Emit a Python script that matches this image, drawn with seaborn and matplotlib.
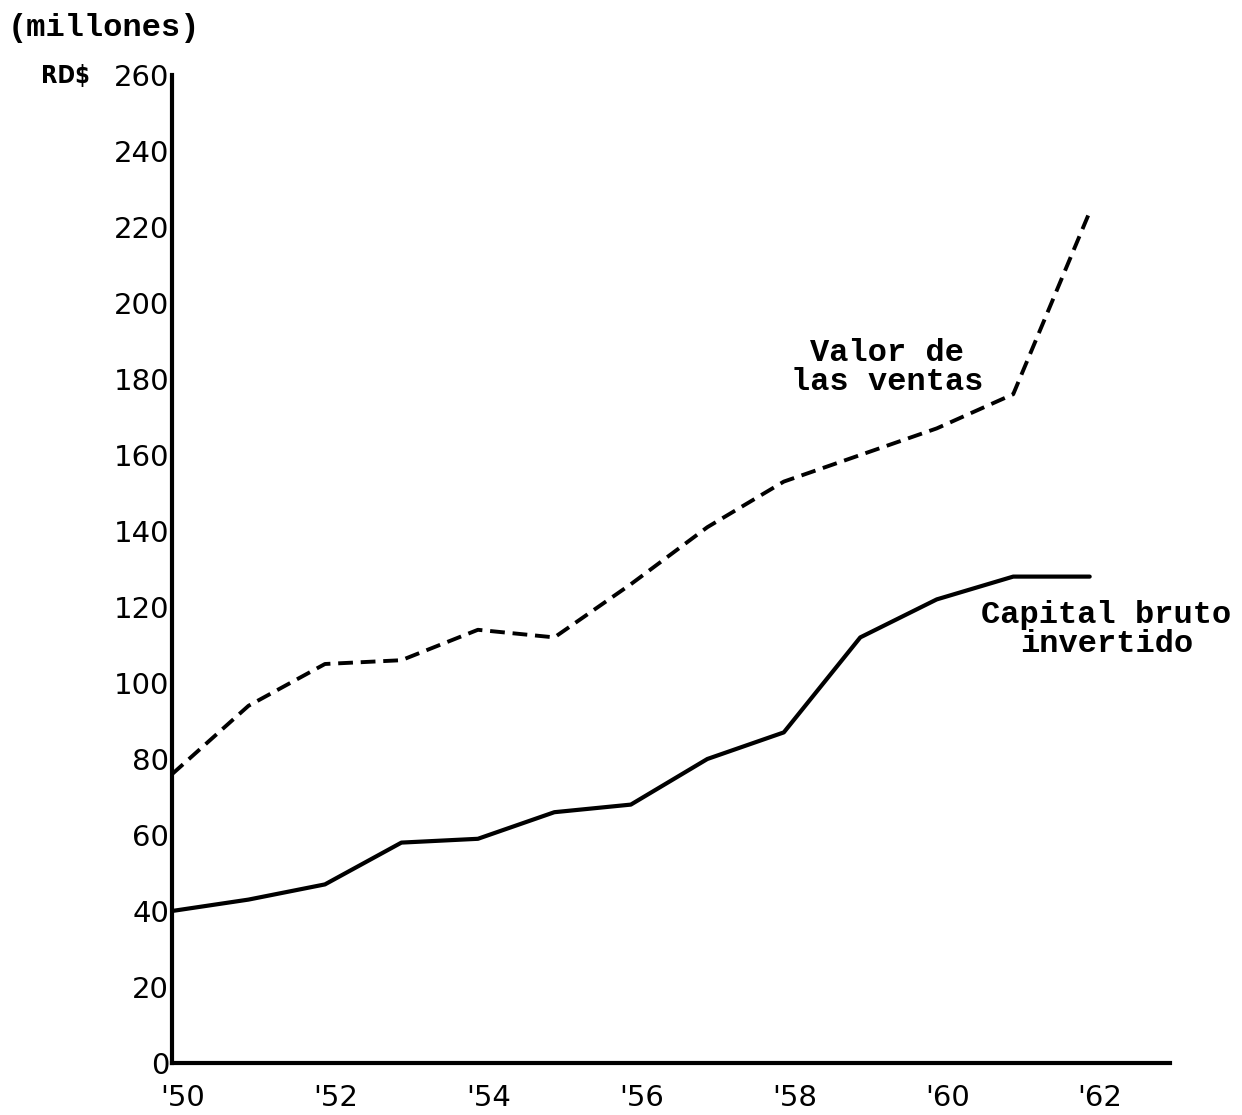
import matplotlib
matplotlib.use('Agg')
import matplotlib.pyplot as plt
import matplotlib.transforms as mtransforms
import seaborn as sns
import pandas as pd

# Datos (millones RD$)
anios = [1950, 1951, 1952, 1953, 1954, 1955, 1956, 1957, 1958, 1959, 1960, 1961, 1962]
ventas = [76, 94, 105, 106, 114, 112, 126, 141, 153, 160, 167, 176, 224]
capital = [40, 43, 47, 58, 59, 66, 68, 80, 87, 112, 122, 128, 128]

ticks_x = [1950, 1952, 1954, 1956, 1958, 1960, 1962]
etiquetas_x = ["'50", "'52", "'54", "'56", "'58", "'60", "'62"]
ticks_y = list(range(0, 261, 20))

df = pd.DataFrame({'anio': anios, 'ventas': ventas, 'capital': capital})

sns.set_style('white')
plt.rcParams['font.family'] = ['DejaVu Sans']
plt.rcParams['text.color'] = 'black'
plt.rcParams['xtick.color'] = 'black'
plt.rcParams['ytick.color'] = 'black'

fig = plt.figure(figsize=(12.42, 11.15), dpi=100)
ax = fig.add_axes([172 / 1242, 52 / 1115, (1170 - 172) / 1242, (1063 - 75) / 1115])

sns.lineplot(data=df, x='anio', y='ventas', ax=ax, color='black', linewidth=2.8,
             linestyle=(0, (3.8, 2)))
sns.lineplot(data=df, x='anio', y='capital', ax=ax, color='black', linewidth=3.0)

ax.set_xlim(1950, 1963.05)
ax.set_ylim(0, 260)
ax.set_xticks(ticks_x)
ax.set_xticklabels(etiquetas_x)
ax.set_yticks(ticks_y)
ax.set_xlabel('')
ax.set_ylabel('')

ax.tick_params(axis='x', length=0, pad=15, labelsize=21, labelcolor='black')
ax.tick_params(axis='y', length=0, pad=2, labelsize=21, labelcolor='black')
# pequeño desplazamiento de las etiquetas x
desplaza = mtransforms.ScaledTranslation(-12 / 100, 0, fig.dpi_scale_trans)
for lab in ax.get_xticklabels():
    lab.set_horizontalalignment('left')
    lab.set_transform(lab.get_transform() + desplaza)

for lado in ['top', 'right']:
    ax.spines[lado].set_visible(False)
for lado in ['left', 'bottom']:
    ax.spines[lado].set_linewidth(3)
    ax.spines[lado].set_color('black')

fuente = ['Liberation Mono', 'DejaVu Sans Mono']
ax.text(1959.35, 183, 'Valor de\nlas ventas', ha='center', va='center',
        fontsize=23, family=fuente, fontweight='bold', linespacing=0.95)
ax.text(1962.22, 114, 'Capital bruto\ninvertido', ha='center', va='center',
        fontsize=23, family=fuente, fontweight='bold', linespacing=0.95,
        clip_on=False)

fig.text(8 / 1242, 1 - 28 / 1115, '(millones)', ha='left', va='center',
         fontsize=23, family=fuente, fontweight='bold')
fig.text(41 / 1242, 1 - 76 / 1115, 'RD$', ha='left', va='center',
         fontsize=17, fontweight='bold', family=['DejaVu Sans'],
         fontstretch='condensed')

fig.savefig('out.png', dpi=100)
